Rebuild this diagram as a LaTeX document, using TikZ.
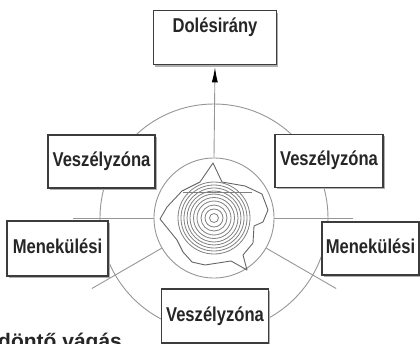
\documentclass[tikz,border=0pt]{standalone}
\usepackage{fontspec}
\setmainfont{Liberation Sans}
\newfontfamily\dobozfont{Liberation Sans}[FakeStretch=0.83]
\usetikzlibrary{arrows.meta, positioning, calc, shadows}
\definecolor{vonalgray}{RGB}{150,150,150}
\definecolor{keretgray}{RGB}{60,60,60}
\definecolor{arnyekgray}{RGB}{175,175,175}

\begin{document}
\begin{tikzpicture}[x=1pt, y=1pt,
  zona/.style={draw=keretgray, line width=1.3pt, fill=white, inner sep=0pt,
    font=\dobozfont\bfseries\fontsize{20}{24}\selectfont, text=black!85,
    text height=14pt, text depth=4pt,
    drop shadow={shadow xshift=1.5pt, shadow yshift=-2pt, fill=arnyekgray, opacity=1}},
  vonal/.style={draw=vonalgray, line width=0.9pt},
  gyuru/.style={draw=black!50, line width=0.8pt}]

  \clip (0,0) rectangle (420,343);
  \coordinate (tusko) at (214,125);

  % outer ring round the stump
  \draw[vonal] (tusko) circle[radius=114];

  % stump with its growth rings
  \node[circle, vonal, minimum size=120pt, inner sep=0pt] (tuskokor) at (tusko) {};
  \foreach \r in {4.5,9,13,17,20.5,24,27,30,33,36}
    \draw[gyuru] (tusko) circle[radius=\r];
  \draw[draw=black!60, line width=0.9pt, line join=round]
    (213,180) -- (222,161) -- (245,157) -- (262,149) -- (268,133) -- (263,121)
    -- (254,117) -- (253,100) -- (243,88) -- (247,73) -- (231,82) -- (205,78)
    -- (192,81) -- (183,91) -- (177,103) -- (160,124) -- (167,136) -- (182,152)
    -- (200,161) -- cycle;
  \draw[gyuru] (183,151) -- (252,151);

  % dividing lines
  \coordinate (bal-vege) at (73,125);
  \coordinate (jobb-vege) at (353,125);
  \coordinate (balalso-vege) at ($(tusko)+(-150:141)$);
  \coordinate (jobbalso-vege) at ($(tusko)+(-30:141)$);
  \draw[vonal] (tuskokor.west) -- (bal-vege);
  \draw[vonal] (tuskokor.east) -- (jobb-vege);
  \draw[vonal] (tuskokor.-150) -- (balalso-vege);
  \draw[vonal] (tuskokor.-30) -- (jobbalso-vege);

  % felling direction
  \node[zona, minimum width=123pt, text height=22pt, text depth=32pt, anchor=north]
    (dolesirany) at (215,333) {Dolésirány};
  \draw[vonal, shorten >=2pt, -{Latex[length=15pt, width=6pt, color=black]}]
    (tuskokor.north) -- (dolesirany.south);

  % zones
  \node[zona, minimum width=107pt, minimum height=53pt] (veszely-bal) at (101.5,181.5) {Veszélyzóna};
  \node[zona, minimum width=108pt, minimum height=53pt] (veszely-jobb) at (329,182) {Veszélyzóna};
  \node[zona, minimum width=101pt, minimum height=55pt] (menekulesi-bal) at (57.5,94.5) {Menekülési};
  \node[zona, minimum width=97pt, minimum height=53pt] (menekulesi-jobb) at (370.5,94.5) {Menekülési};
  \node[zona, minimum width=107pt, minimum height=54pt] (veszely-also) at (215,27) {Veszélyzóna};

  \node[anchor=north west, inner sep=0pt, font=\bfseries\fontsize{21}{24}\selectfont,
    text=black!85] (dontes) at (-2,10) {döntő vágás};
\end{tikzpicture}
\end{document}
